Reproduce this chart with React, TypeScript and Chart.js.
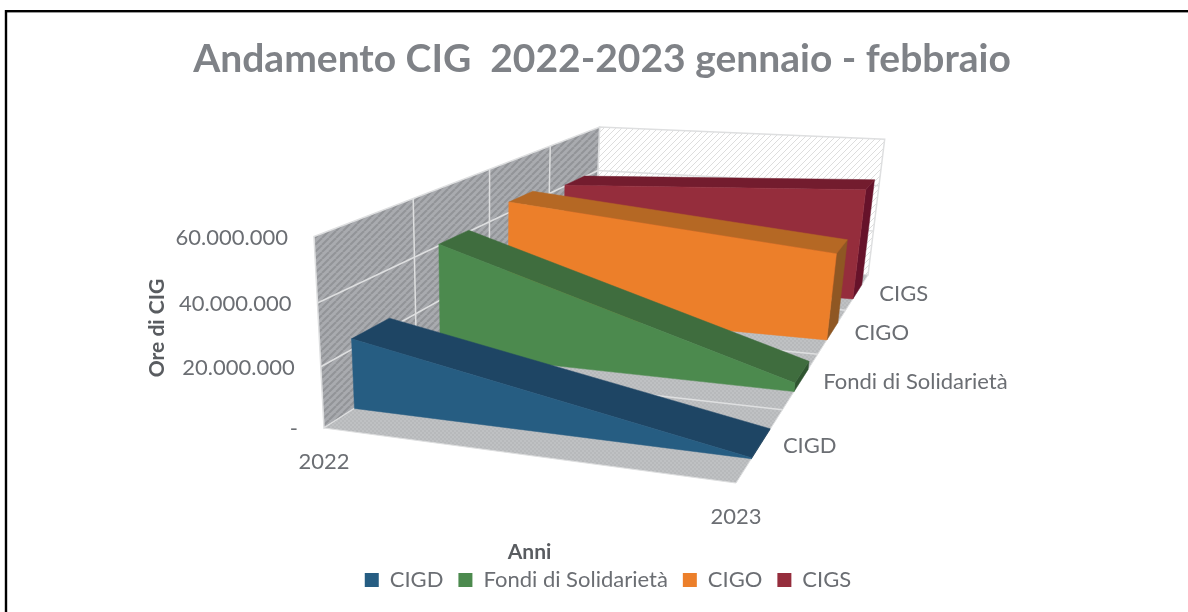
import React, { useEffect, useRef } from "react";
import { Chart, registerables } from "chart.js";

Chart.register(...registerables);

const years = ["2022", "2023"];
const seriesNames = ["CIGD", "Fondi di Solidarietà", "CIGO", "CIGS"];
const cigd = [23500000, 300000];
const fondi = [40500000, 3000000];
const cigo = [44200000, 33000000];
const cigs = [40400000, 45700000];
const seriesValues = [cigd, fondi, cigo, cigs];
const frontColors = ["#265d82", "#4c8a4e", "#ec7f2a", "#952d3c"];
const topColors = ["#1e4564", "#3f6d3e", "#b56824", "#731c2e"];
const sideColors = ["#173a55", "#2f5530", "#8f5723", "#66122a"];
const yTicksStep = 20000000;
const yMax = 60000000;

const FONT = "Lato, sans-serif";
const TEXT = "#6b6e73";

// perspective box: image of the unit cube (u right, d into the page, v up)
const A = [324, 428];
const U = [736, 483];
const D = [595, 254];
const T = [314, 236.5];
const wa = -0.10684;
const wb = 0.5608;
const wc = -0.06;
const pa = [U[0] * (1 + wa) - A[0], U[1] * (1 + wa) - A[1]];
const pb = [D[0] * (1 + wb) - A[0], D[1] * (1 + wb) - A[1]];
const pc = [T[0] * (1 + wc) - A[0], T[1] * (1 + wc) - A[1]];
const project = (u: number, d: number, v: number) => {
  const w = 1 + wa * u + wb * d + wc * v;
  return [
    (A[0] + pa[0] * u + pb[0] * d + pc[0] * v) / w,
    (A[1] + pa[1] * u + pb[1] * d + pc[1] * v) / w,
  ];
};

const tile = (size: number, paint: (c: CanvasRenderingContext2D) => void) => {
  const cv = document.createElement("canvas");
  cv.width = size;
  cv.height = size;
  paint(cv.getContext("2d")!);
  return cv;
};

const hatch = (bg: string, fg: string, size: number, lw: number) =>
  tile(size, (c) => {
    c.fillStyle = bg;
    c.fillRect(0, 0, size, size);
    c.strokeStyle = fg;
    c.lineWidth = lw;
    for (const o of [-size, 0, size]) {
      c.beginPath();
      c.moveTo(o, size);
      c.lineTo(o + size, 0);
      c.stroke();
    }
  });

const stipple = (a: string, b: string) =>
  tile(4, (c) => {
    c.fillStyle = a;
    c.fillRect(0, 0, 4, 4);
    c.fillStyle = b;
    c.fillRect(0, 0, 2, 2);
    c.fillRect(2, 2, 2, 2);
  });

const poly = (c: CanvasRenderingContext2D, pts: number[][], fill: any, stroke?: string, lw = 1) => {
  c.beginPath();
  pts.forEach((p, i) => (i ? c.lineTo(p[0], p[1]) : c.moveTo(p[0], p[1])));
  c.closePath();
  if (fill) {
    c.fillStyle = fill;
    c.fill();
  }
  if (stroke) {
    c.strokeStyle = stroke;
    c.lineWidth = lw;
    c.stroke();
  }
};

const line = (c: CanvasRenderingContext2D, a: number[], b: number[], color: string, lw: number) => {
  c.beginPath();
  c.moveTo(a[0], a[1]);
  c.lineTo(b[0], b[1]);
  c.strokeStyle = color;
  c.lineWidth = lw;
  c.stroke();
};

const chart3d = {
  id: "chart3d",
  afterLayout(chart: any) {
    // the legend sits a little right of the title in the reference
    chart.legend.left += 6;
    chart.legend.right += 6;
  },
  beforeDraw(chart: any) {
    const c = chart.ctx as CanvasRenderingContext2D;
    c.save();
    c.fillStyle = "#ffffff";
    c.fillRect(0, 0, chart.width, chart.height);
    c.strokeStyle = "#000000";
    c.lineWidth = 2.4;
    c.strokeRect(6, 11.2, 1400, 800);
    c.restore();
  },
  beforeDatasetsDraw(chart: any) {
    const c = chart.ctx as CanvasRenderingContext2D;
    const { x, y, depth } = chart.scales;
    const norm = (s: any, px: number) =>
      s.isHorizontal() ? (px - s.left) / (s.right - s.left) : (s.bottom - px) / (s.bottom - s.top);
    const P = (yearIdx: number, d: number, value: number) =>
      project(norm(x, x.getPixelForValue(yearIdx)), d, norm(y, y.getPixelForValue(value)));
    c.save();

    const wallPat = c.createPattern(hatch("#a9abaf", "#929498", 7, 2), "repeat");
    const floorPat = c.createPattern(stipple("#b7b9bb", "#bfc1c3"), "repeat");
    const backPat = c.createPattern(hatch("#ffffff", "#dddddd", 6, 1), "repeat");
    const W = "#dedfe0";
    const bl0 = project(0, 0, 0), bl1 = project(0, 0, 1), bb0 = project(0, 1, 0), bb1 = project(0, 1, 1);
    const rb0 = project(1, 1, 0), rb1 = project(1, 1, 1), fr0 = project(1, 0, 0);

    poly(c, [bb0, bb1, rb1, rb0], backPat, W, 1.5);
    poly(c, [bl0, bl1, bb1, bb0], wallPat, W, 1.5);
    poly(c, [bl0, bb0, rb0, fr0], floorPat, W, 1);

    // gridlines of the value axis on both walls
    for (const t of y.ticks) {
      const v = norm(y, y.getPixelForValue(t.value));
      if (v <= 0 || v >= 1) continue;
      line(c, project(0, 0, v), project(0, 1, v), W, 1.5);
      line(c, project(0, 1, v), project(1, 1, v), W, 1.5);
    }
    // dividers of the series axis
    const bands = depth.getLabels().length;
    for (let i = 1; i < bands; i++) {
      const d = i / bands;
      line(c, project(0, d, 0), project(0, d, 1), W, 1.5);
      line(c, project(0, d, 0), project(1, d, 0), W, 1.5);
    }

    // areas, back to front
    const half = 0.05;
    for (let i = chart.data.datasets.length - 1; i >= 0; i--) {
      const ds = chart.data.datasets[i];
      const dc = norm(depth, depth.getPixelForValue(i));
      const d0 = dc - half, d1 = dc + half;
      const [v0, v1] = ds.data as number[];
      const a = P(0, d0, 0), b = P(0, d0, v0), e = P(1, d0, v1), f = P(1, d0, 0);
      const g = P(0, d1, v0), h = P(1, d1, v1), k = P(1, d1, 0);
      poly(c, [f, e, h, k], sideColors[i], sideColors[i], 0.5);
      poly(c, [b, g, h, e], topColors[i], topColors[i], 0.5);
      poly(c, [a, b, e, f], frontColors[i], frontColors[i], 0.5);
    }

    // tick labels placed in the perspective
    c.fillStyle = TEXT;
    c.font = `22px ${FONT}`;
    c.textBaseline = "middle";
    c.textAlign = "right";
    for (const t of y.ticks) {
      const v = norm(y, y.getPixelForValue(t.value));
      const p = project(0, 0, v);
      c.fillText(t.label as string, p[0] - 26, p[1] + 1);
    }
    c.textAlign = "center";
    x.getLabels().forEach((lab: string, i: number) => {
      const p = P(i, 0, 0);
      c.fillText(lab, p[0], p[1] + 34);
    });
    c.textAlign = "left";
    depth.getLabels().forEach((lab: string, i: number) => {
      const p = project(1, norm(depth, depth.getPixelForValue(i)), 0);
      c.fillText(lab, p[0] + 22, p[1] + 2);
    });
    c.restore();
  },
};

export default function App() {
  const ref = useRef<HTMLCanvasElement>(null);
  useEffect(() => {
    const chart = new Chart(ref.current!, {
      type: "line",
      data: {
        labels: years,
        datasets: seriesNames.map((label, i) => ({
          label,
          data: seriesValues[i],
          backgroundColor: frontColors[i],
          borderColor: frontColors[i],
          borderWidth: 0,
          showLine: false,
          pointRadius: 0,
          xAxisID: "x",
          yAxisID: "y",
        })),
      },
      options: {
        responsive: false,
        animation: false,
        layout: { padding: { top: 36, left: 16, right: 0, bottom: 11 } },
        plugins: {
          tooltip: { enabled: false },
          title: {
            display: true,
            text: "Andamento CIG  2022-2023 gennaio - febbraio",
            color: "#7f8287",
            font: { family: FONT, size: 39, weight: "bold" },
            padding: { top: 0, bottom: 42 },
          },
          legend: {
            display: true,
            position: "bottom",
            labels: {
              color: TEXT,
              font: { family: FONT, size: 22 },
              boxWidth: 14,
              boxHeight: 14,
              padding: 15,
            },
          },
        },
        scales: {
          x: {
            type: "category",
            display: true,
            grid: { display: false },
            border: { display: false },
            ticks: { display: false },
            title: {
              display: true,
              text: "Anni",
              color: "#595c60",
              font: { family: FONT, size: 21, weight: "bold" },
              padding: { top: 0, bottom: -10.5 },
            },
          },
          y: {
            type: "linear",
            min: 0,
            max: yMax,
            display: true,
            grid: { display: false },
            border: { display: false },
            ticks: {
              display: false,
              stepSize: yTicksStep,
              callback: (v: any) => (v === 0 ? "-" : Number(v).toLocaleString("it-IT")),
            },
            title: {
              display: true,
              text: "Ore di CIG",
              color: "#595c60",
              font: { family: FONT, size: 21, weight: "bold" },
              padding: { top: 129, bottom: 0 },
            },
          },
          depth: {
            type: "category",
            position: "right",
            reverse: true,
            labels: seriesNames,
            display: true,
            offset: true,
            grid: { display: false },
            border: { display: false },
            ticks: { display: false },
            afterFit: (s: any) => {
              s.width = 307;
            },
          },
        },
      } as any,
      plugins: [chart3d],
    });
    return () => chart.destroy();
  }, []);
  return (
    <canvas
      ref={ref}
      width={1188}
      height={612}
      style={{ position: "fixed", left: 0, top: 0, display: "block" }}
    />
  );
}
